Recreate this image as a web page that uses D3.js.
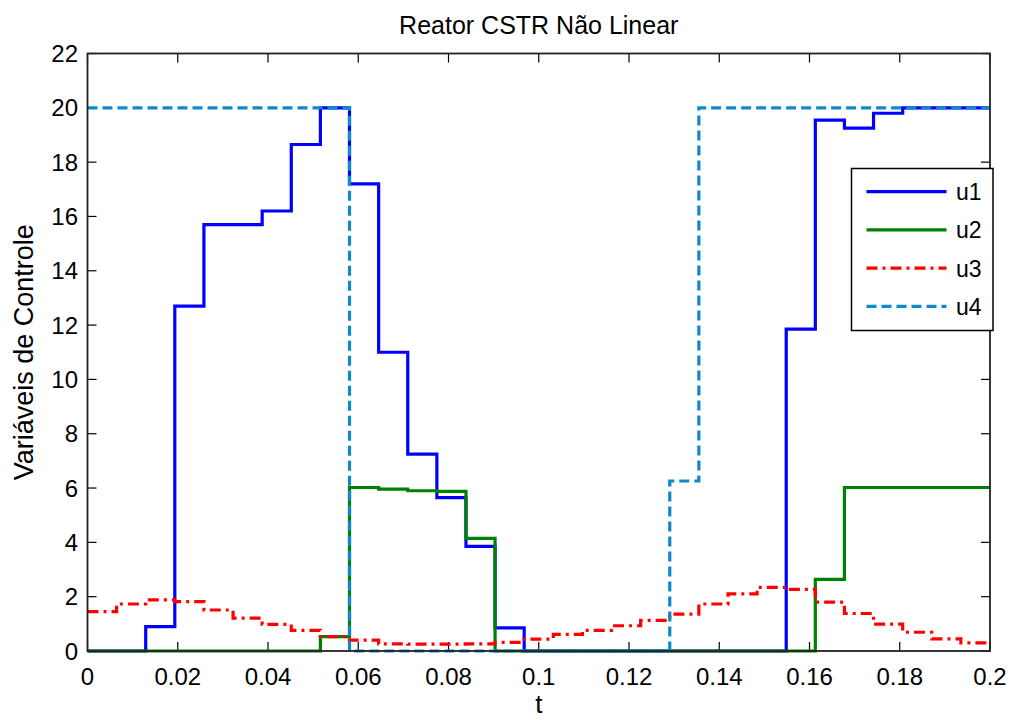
<!DOCTYPE html>
<html>
<head>
<meta charset="utf-8">
<script src="https://cdn.jsdelivr.net/npm/d3@7"></script>
<style>
  html, body { margin: 0; padding: 0; background: #fff; }
  svg { display: block; }
  text { font-family: "Liberation Sans", Arial, sans-serif; fill: #000; }
</style>
</head>
<body>
<svg id="chart" width="1012" height="720"></svg>
<script>
// Sample instants of the piecewise-constant control moves (s)
const stepTimes = [0, 0.00645, 0.0129, 0.01935, 0.0258, 0.03226, 0.03871, 0.04516,
  0.05161, 0.05806, 0.06452, 0.07097, 0.07742, 0.08387, 0.09032, 0.09677,
  0.10323, 0.10968, 0.11613, 0.12258, 0.12903, 0.13548, 0.14194, 0.14839,
  0.15484, 0.16129, 0.16774, 0.17419, 0.18065, 0.1871, 0.19355, 0.2];

// Control moves held over each interval
const u1 = [0, 0, 0.9, 12.7, 15.7, 15.7, 16.2, 18.65, 20, 17.2, 11.0, 7.25, 5.65, 3.85, 0.85,
  0, 0, 0, 0, 0, 0, 0, 0, 0, 11.85, 19.55, 19.25, 19.8, 20, 20, 20];
const u2 = [0, 0, 0, 0, 0, 0, 0, 0, 0.53, 6.02, 5.96, 5.9, 5.88, 4.15,
  0, 0, 0, 0, 0, 0, 0, 0, 0, 0, 0, 2.64, 6.02, 6.02, 6.02, 6.02, 6.02];
const u3 = [1.45, 1.73, 1.88, 1.82, 1.51, 1.21, 0.98, 0.76, 0.53, 0.4, 0.26, 0.25, 0.25, 0.26,
  0.32, 0.44, 0.61, 0.76, 0.93, 1.13, 1.36, 1.73, 2.1, 2.34, 2.27, 1.8, 1.38, 0.99, 0.69, 0.45, 0.3];
const u4 = [20, 20, 20, 20, 20, 20, 20, 20, 20, 0, 0, 0, 0, 0, 0, 0, 0, 0, 0, 0,
  6.26, 20, 20, 20, 20, 20, 20, 20, 20, 20, 20];

const seriesNames = ["u1", "u2", "u3", "u4"];
const xTicks = [0, 0.02, 0.04, 0.06, 0.08, 0.1, 0.12, 0.14, 0.16, 0.18, 0.2];
const xTickLabels = ["0", "0.02", "0.04", "0.06", "0.08", "0.1", "0.12", "0.14", "0.16", "0.18", "0.2"];
const yTicks = [0, 2, 4, 6, 8, 10, 12, 14, 16, 18, 20, 22];

const titleText = "Reator CSTR Não Linear";
const xLabel = "t";
const yLabel = "Variáveis de Controle";

const styles = [
  { color: "#0000ff", dash: null },
  { color: "#008000", dash: null },
  { color: "#ff0000", dash: "11,5,3,5" },
  { color: "#1088cc", dash: "10,5" }
];

const svg = d3.select("#chart");
const plot = { left: 87.5, right: 990, top: 53.5, bottom: 651 };
const FS = 24;

const x = d3.scaleLinear().domain([0, 0.2]).range([plot.left, plot.right]);
const y = d3.scaleLinear().domain([0, 22]).range([plot.bottom, plot.top]);

function label(g, px, py, str, anchor, size, rot) {
  g.append("text")
    .attr("transform", `translate(${px},${py})` + (rot ? ` rotate(${rot})` : ""))
    .attr("text-anchor", anchor)
    .attr("font-size", size)
    .text(str);
}

// Axes box with inward ticks on all four sides
const axisG = svg.append("g");
const tickLen = 9;
xTicks.forEach(v => {
  axisG.append("line").attr("x1", x(v)).attr("x2", x(v)).attr("y1", plot.bottom).attr("y2", plot.bottom - tickLen)
    .attr("stroke", "#000").attr("stroke-width", 1.2);
  axisG.append("line").attr("x1", x(v)).attr("x2", x(v)).attr("y1", plot.top).attr("y2", plot.top + tickLen)
    .attr("stroke", "#000").attr("stroke-width", 1.2);
});
yTicks.forEach(v => {
  axisG.append("line").attr("x1", plot.left).attr("x2", plot.left + tickLen).attr("y1", y(v)).attr("y2", y(v))
    .attr("stroke", "#000").attr("stroke-width", 1.2);
  axisG.append("line").attr("x1", plot.right).attr("x2", plot.right - tickLen).attr("y1", y(v)).attr("y2", y(v))
    .attr("stroke", "#000").attr("stroke-width", 1.2);
});

// Tick labels
xTicks.forEach((v, i) => label(axisG, x(v), 685, xTickLabels[i], "middle", FS));
yTicks.forEach(v => label(axisG, 78, y(v) + 8.5, String(v), "end", FS));

// Step traces
const stepLine = d3.line()
  .x(d => x(d[0]))
  .y(d => y(d[1]))
  .curve(d3.curveStepAfter);

[u1, u2, u3, u4].forEach((vals, i) => {
  const pts = vals.map((v, k) => [stepTimes[k], v]);
  pts.push([stepTimes[stepTimes.length - 1], vals[vals.length - 1]]);
  svg.append("path")
    .datum(pts)
    .attr("d", stepLine)
    .attr("fill", "none")
    .attr("stroke", styles[i].color)
    .attr("stroke-width", 3.2)
    .attr("stroke-dasharray", styles[i].dash)
    .attr("stroke-linejoin", "miter");
});

// Frame on top
svg.append("rect")
  .attr("x", plot.left).attr("y", plot.top)
  .attr("width", plot.right - plot.left).attr("height", plot.bottom - plot.top)
  .attr("fill", "none").attr("stroke", "#222").attr("stroke-width", 1.8);

// Title and axis labels
label(svg, (plot.left + plot.right) / 2, 34, titleText, "middle", 25);
label(svg, (plot.left + plot.right) / 2, 713, xLabel, "middle", 26);
label(svg, 33, (plot.top + plot.bottom) / 2, yLabel, "middle", 27, -90);

// Legend
const leg = { x: 851.5, y: 168.5, w: 141.5, h: 162 };
const legG = svg.append("g");
legG.append("rect")
  .attr("x", leg.x).attr("y", leg.y).attr("width", leg.w).attr("height", leg.h)
  .attr("fill", "#fff").attr("stroke", "#000").attr("stroke-width", 1.5);
seriesNames.forEach((name, i) => {
  const ly = 191.7 + i * 38.2;
  legG.append("line")
    .attr("x1", 866.5).attr("x2", 946.5).attr("y1", ly).attr("y2", ly)
    .attr("stroke", styles[i].color).attr("stroke-width", 3.2)
    .attr("stroke-dasharray", styles[i].dash);
  label(legG, 956, ly + 8.5, name, "start", 23);
});
</script>
</body>
</html>
